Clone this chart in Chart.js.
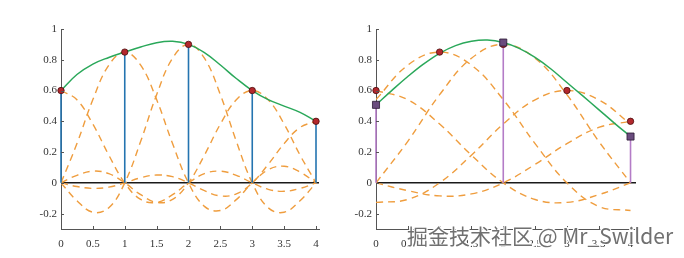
<!DOCTYPE html>
<html>
<head>
<meta charset="utf-8">
<script src="https://cdn.jsdelivr.net/npm/chart.js@4.4.0/dist/chart.umd.min.js"></script>
<style>
    body { margin: 0; background: #fff; }
    #wrap { position: relative; width: 684px; height: 258px; overflow: hidden; }
    canvas { position: absolute; top: 0; }
    #left_chart { left: 0; }
    #right_chart { left: 342px; }
    #mark {
        position: absolute; left: 407px; top: 220px; white-space: nowrap;
        font: 21px "Noto Sans CJK SC", "Noto Sans", sans-serif; color: #707070;
        text-shadow: -1px -1px 0 #fff, 1px -1px 0 #fff, -1px 1px 0 #fff, 1px 1px 0 #fff;
    }
</style>
</head>
<body>
<div id="wrap">
    <canvas id="left_chart" width="342" height="258"></canvas>
    <canvas id="right_chart" width="342" height="258"></canvas>
    <div id="mark">掘金技术社区 @ Mr_Swilder</div>
</div>
<script>
// samples (both panels)
const sample_x = [0, 1, 2, 3, 4];
const sample_y = [0.6, 0.85, 0.9, 0.6, 0.4];

// axis ticks
const x_ticks = [0, 0.5, 1, 1.5, 2, 2.5, 3, 3.5, 4];
const y_ticks = [-0.2, 0, 0.2, 0.4, 0.6, 0.8, 1];

// left panel: curve grid + the five dashed curves + green sum
const left_x = [0, 0.25, 0.5, 0.75, 1, 1.25, 1.5, 1.75, 2, 2.25, 2.5, 2.75, 3, 3.25, 3.5, 3.75, 4];
const left_c0 = [0.6, 0.540, 0.382, 0.180, 0, -0.108, -0.127, -0.077, 0, 0.060, 0.076, 0.049, 0, -0.042, -0.055, -0.036, 0];
const left_c1 = [0, 0.255, 0.541, 0.765, 0.85, 0.765, 0.541, 0.255, 0, -0.153, -0.180, -0.109, 0, 0.085, 0.108, 0.070, 0];
const left_c2 = [0, -0.116, -0.191, -0.162, 0, 0.270, 0.573, 0.810, 0.9, 0.810, 0.573, 0.270, 0, -0.162, -0.191, -0.116, 0];
const left_c3 = [0, 0.049, 0.076, 0.060, 0, -0.077, -0.127, -0.108, 0, 0.180, 0.382, 0.540, 0.6, 0.540, 0.382, 0.180, 0];
const left_c4 = [0, -0.024, -0.036, -0.028, 0, 0.033, 0.051, 0.040, 0, -0.051, -0.085, -0.072, 0, 0.120, 0.255, 0.360, 0.4];
const left_sum = [0.6, 0.704, 0.772, 0.815, 0.85, 0.883, 0.911, 0.920, 0.9, 0.846, 0.766, 0.678, 0.6, 0.541, 0.499, 0.458, 0.4];

// right panel: wider dashed curves, downsampled squares, green curve
const right_x = [0, 0.5, 1, 1.5, 2, 2.5, 3, 3.5, 4];
const right_d0 = [0.6, 0.540, 0.382, 0.180, 0, -0.108, -0.127, -0.077, 0];
const right_d1 = [0.541, 0.765, 0.85, 0.765, 0.541, 0.255, 0, -0.153, -0.180];
const right_d2 = [0, 0.270, 0.573, 0.810, 0.9, 0.810, 0.573, 0.270, 0];
const right_d3 = [-0.127, -0.108, 0, 0.180, 0.382, 0.540, 0.6, 0.540, 0.382];
const right_d4 = [0, -0.051, -0.085, -0.072, 0, 0.120, 0.255, 0.360, 0.4];
const square_x = [0, 2, 4];
const square_y = [0.507, 0.912, 0.301];
const green_x = [0, 0.25, 0.5, 0.75, 1, 1.25, 1.5, 1.75, 2, 2.25, 2.5, 2.75, 3, 3.25, 3.5, 3.75, 4];
const green_y = [0.507, 0.601, 0.691, 0.773, 0.842, 0.892, 0.920, 0.928, 0.912, 0.874, 0.815, 0.740, 0.652, 0.565, 0.476, 0.387, 0.301];

const ORANGE = '#ef9d3e';
const GREEN = '#2aa85a';
const AXIS = '#555';
const TICK_FONT = { family: '"Liberation Serif", "DejaVu Serif", serif', size: 11 };

const pts = (xs, ys) => xs.map((x, i) => ({ x: x, y: ys[i] }));

const dashed = (xs, ys) => ({
    data: pts(xs, ys), borderColor: ORANGE, borderWidth: 1.4, borderDash: [7, 5],
    pointRadius: 0, tension: 0.4, fill: false, order: 5
});

const stems = (xs, ys, color) => xs.map((x, i) => ({
    data: [{ x: x, y: 0 }, { x: x, y: ys[i] }], borderColor: color, borderWidth: 1.6,
    pointRadius: 0, tension: 0, order: 3, clip: false
}));

const red_dots = {
    data: pts(sample_x, sample_y), showLine: false, pointRadius: 3.2, clip: false,
    pointBackgroundColor: '#b3282d', pointBorderColor: '#4a0c0c', pointBorderWidth: 0.8, order: 1
};

const inward_ticks = {
    id: 'inward_ticks',
    afterDatasetsDraw(chart) {
        const { ctx, chartArea, scales } = chart;
        ctx.save();
        ctx.strokeStyle = AXIS;
        ctx.lineWidth = 1;
        ctx.beginPath();
        scales.x.ticks.forEach(t => {
            const px = Math.round(scales.x.getPixelForValue(t.value)) + 0.5;
            ctx.moveTo(px, chartArea.bottom);
            ctx.lineTo(px, chartArea.bottom - 3);
        });
        scales.y.ticks.forEach(t => {
            const py = Math.round(scales.y.getPixelForValue(t.value)) + 0.5;
            ctx.moveTo(chartArea.left, py);
            ctx.lineTo(chartArea.left + 3, py);
        });
        ctx.stroke();
        ctx.restore();
    }
};

const make_options = (y_width, pad_right, x_max) => ({
    responsive: false,
    animation: false,
    devicePixelRatio: 1,
    events: [],
    layout: { padding: { top: 29, left: 0, right: pad_right, bottom: 0 } },
    plugins: { legend: { display: false }, tooltip: { enabled: false } },
    scales: {
        x: {
            type: 'linear', min: 0, max: x_max, offset: false,
            afterBuildTicks: s => { s.ticks = x_ticks.map(v => ({ value: v })); },
            afterFit: s => { s.height = 29; },
            grid: { display: false },
            border: { display: true, color: AXIS, width: 1 },
            ticks: { color: '#333', font: TICK_FONT, padding: 1, maxRotation: 0,
                     callback: v => String(+v.toFixed(1)) }
        },
        y: {
            type: 'linear', min: -0.3, max: 1,
            afterBuildTicks: s => { s.ticks = y_ticks.map(v => ({ value: v })); },
            afterFit: s => { s.width = y_width; },
            grid: {
                drawTicks: false,
                color: c => (c.tick && Math.abs(c.tick.value) < 1e-9) ? '#1a1a1a' : 'rgba(0,0,0,0)',
                lineWidth: 1.5
            },
            border: { display: true, color: AXIS, width: 1 },
            ticks: { color: '#333', font: TICK_FONT, padding: 4,
                     callback: v => String(+v.toFixed(1)) }
        }
    }
});

const left_config = {
    type: 'scatter',
    data: {
        datasets: [
            red_dots,
            ...stems(sample_x, sample_y, '#2474b0'),
            { data: pts(left_x, left_sum), showLine: true, borderColor: GREEN, borderWidth: 1.5,
              pointRadius: 0, tension: 0.4, order: 4 },
            dashed(left_x, left_c0), dashed(left_x, left_c1), dashed(left_x, left_c2),
            dashed(left_x, left_c3), dashed(left_x, left_c4)
        ].map(d => Object.assign({ showLine: true }, d))
    },
    options: make_options(61, 23, 4.047),
    plugins: [inward_ticks]
};

const right_config = {
    type: 'scatter',
    data: {
        datasets: [
            { data: pts(square_x, square_y), showLine: false, pointStyle: 'rect', pointRadius: 5, clip: false,
              pointBackgroundColor: '#6a4c7e', pointBorderColor: '#2b1a33', pointBorderWidth: 0.8, order: 0 },
            Object.assign({}, red_dots, { order: 2 }),
            ...stems(square_x, square_y, '#b47cc7'),
            { data: pts(green_x, green_y), showLine: true, borderColor: GREEN, borderWidth: 1.5,
              pointRadius: 0, tension: 0.4, order: 4 },
            dashed(right_x, right_d0), dashed(right_x, right_d1), dashed(right_x, right_d2),
            dashed(right_x, right_d3), dashed(right_x, right_d4)
        ].map(d => Object.assign({ showLine: true }, d))
    },
    options: make_options(34, 48, 4.086),
    plugins: [inward_ticks]
};

new Chart(document.getElementById('left_chart'), left_config);
new Chart(document.getElementById('right_chart'), right_config);
</script>
</body>
</html>
